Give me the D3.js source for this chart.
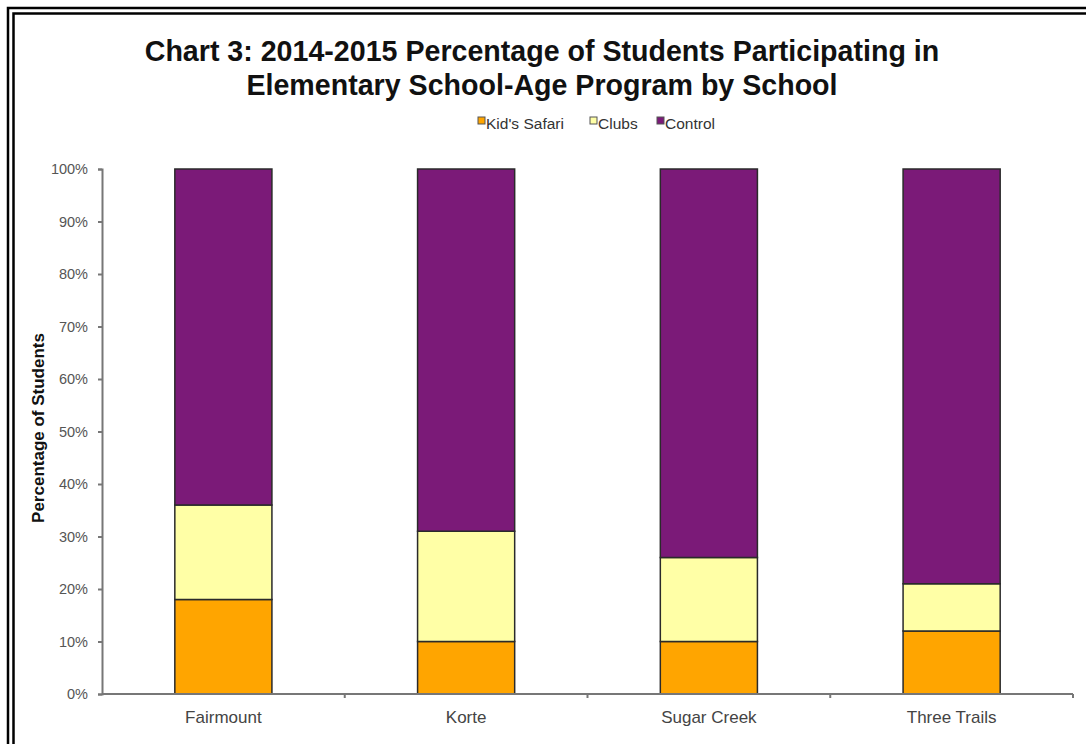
<!DOCTYPE html>
<html><head><meta charset="utf-8">
<script src="https://cdn.jsdelivr.net/npm/d3@7"></script>
<style>body{margin:0;background:#fff}svg{display:block}</style>
</head><body>
<script>
const schools = ["Fairmount", "Korte", "Sugar Creek", "Three Trails"];
const seriesNames = ["Kid's Safari", "Clubs", "Control"];
const kidsSafari = [18, 10, 10, 12];
const clubs = [18, 21, 16, 9];
const control = [64, 69, 74, 79];
const yTicks = [0, 10, 20, 30, 40, 50, 60, 70, 80, 90, 100];
const colors = ["#FFA500", "#FFFFA6", "#7B1A78"];

const W = 1086, H = 744;
const svg = d3.select("body").append("svg").attr("width", W).attr("height", H);

// double border (top and left visible)
svg.append("path").attr("d", "M8,744 V8 H1086").attr("fill", "none").attr("stroke", "#000").attr("stroke-width", 2.5);
svg.append("path").attr("d", "M13.5,744 V13.5 H1086").attr("fill", "none").attr("stroke", "#000").attr("stroke-width", 2.5);

const titleFont = "Liberation Sans, Arial, sans-serif";
svg.append("text").attr("x", 542).attr("y", 61).attr("text-anchor", "middle")
  .attr("font-family", titleFont).attr("font-weight", "bold").attr("font-size", 28.6).attr("fill", "#111")
  .text("Chart 3: 2014-2015 Percentage of Students Participating in");
svg.append("text").attr("x", 542).attr("y", 95).attr("text-anchor", "middle")
  .attr("font-family", titleFont).attr("font-weight", "bold").attr("font-size", 28.6).attr("fill", "#111")
  .text("Elementary School-Age Program by School");

const data = schools.map((s, i) => ({school: s, "Kid's Safari": kidsSafari[i], "Clubs": clubs[i], "Control": control[i]}));
const stack = d3.stack().keys(seriesNames)(data);

const x = d3.scaleBand().domain(schools).range([102, 1073]).paddingInner(0.6).paddingOuter(0.3);
const y = d3.scaleLinear().domain([0, 100]).range([694, 169]);

// legend
const legendItems = [{n: "Kid's Safari", x: 478}, {n: "Clubs", x: 590}, {n: "Control", x: 657}];
legendItems.forEach((d, i) => {
  svg.append("rect").attr("x", d.x).attr("y", 117).attr("width", 7).attr("height", 7)
    .attr("fill", colors[i]).attr("stroke", "#555").attr("stroke-width", 1);
  svg.append("text").attr("x", d.x + 8).attr("y", 128.5).attr("font-family", titleFont)
    .attr("font-size", 15.5).attr("fill", "#333").text(d.n);
});

// bars
svg.append("g").selectAll("g").data(stack).join("g").attr("fill", (d, i) => colors[i])
  .selectAll("rect").data(d => d).join("rect")
  .attr("x", d => x(d.data.school)).attr("width", x.bandwidth())
  .attr("y", d => y(d[1])).attr("height", d => y(d[0]) - y(d[1]))
  .attr("stroke", "#2a2a2a").attr("stroke-width", 1.5);

// y axis
const yAxis = svg.append("g").attr("transform", "translate(102,0)")
  .call(d3.axisLeft(y).tickValues(yTicks).tickFormat(d => d + "%").tickSize(4).tickPadding(10));
yAxis.select(".domain").attr("stroke", "#777").attr("stroke-width", 2);
yAxis.selectAll(".tick line").attr("stroke", "#777").attr("stroke-width", 2);
yAxis.selectAll("text").attr("font-family", titleFont).attr("font-size", 14.5).attr("fill", "#555");

// x axis
const xAxis = svg.append("g").attr("transform", "translate(0,694)")
  .call(d3.axisBottom(x).tickSize(0).tickPadding(17));
xAxis.select(".domain").attr("stroke", "#777").attr("stroke-width", 2).attr("d", "M102,0H1073");
xAxis.selectAll("text").attr("font-family", titleFont).attr("font-size", 17).attr("fill", "#444");
const bounds = d3.range(1, schools.length + 1).map(i => 102 + (1073 - 102) * i / schools.length);
xAxis.selectAll(".bt").data(bounds).join("line").attr("class", "bt")
  .attr("x1", d => d).attr("x2", d => d).attr("y1", 0).attr("y2", 4)
  .attr("stroke", "#777").attr("stroke-width", 2);

// y title
svg.append("text").attr("transform", "translate(44,428) rotate(-90)").attr("text-anchor", "middle")
  .attr("font-family", titleFont).attr("font-weight", "bold").attr("font-size", 17).attr("fill", "#111")
  .text("Percentage of Students");
</script>
</body></html>
